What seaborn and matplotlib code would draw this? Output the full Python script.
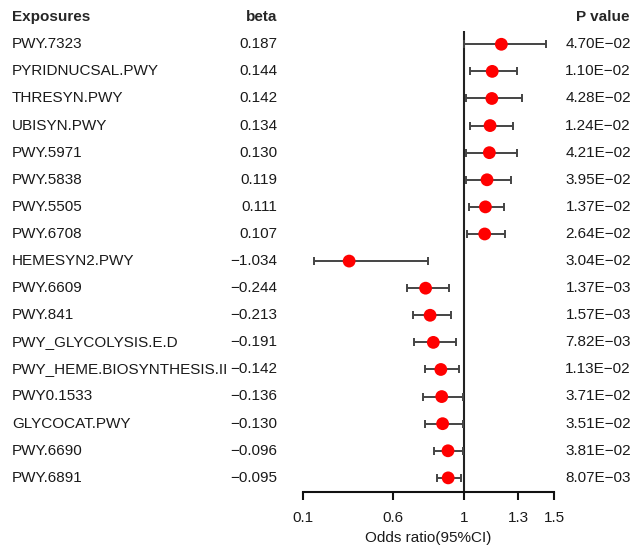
import matplotlib
matplotlib.use("Agg")
import matplotlib.pyplot as plt
import seaborn as sns
import pandas as pd

exposures = ["PWY.7323", "PYRIDNUCSAL.PWY", "THRESYN.PWY", "UBISYN.PWY", "PWY.5971",
             "PWY.5838", "PWY.5505", "PWY.6708", "HEMESYN2.PWY", "PWY.6609", "PWY.841",
             "PWY_GLYCOLYSIS.E.D", "PWY_HEME.BIOSYNTHESIS.II", "PWY0.1533", "GLYCOCAT.PWY",
             "PWY.6690", "PWY.6891"]
beta_labels = ["0.187", "0.144", "0.142", "0.134", "0.130", "0.119", "0.111", "0.107",
               "\u22121.034", "\u22120.244", "\u22120.213", "\u22120.191", "\u22120.142",
               "\u22120.136", "\u22120.130", "\u22120.096", "\u22120.095"]
odds_ratio = [1.206, 1.155, 1.153, 1.143, 1.139, 1.126, 1.117, 1.113, 0.356,
              0.783, 0.808, 0.826, 0.868, 0.873, 0.878, 0.908, 0.909]
ci_lower = [1.000, 1.033, 1.006, 1.030, 1.006, 1.006, 1.026, 1.013, 0.161,
            0.677, 0.710, 0.718, 0.777, 0.768, 0.777, 0.831, 0.846]
ci_upper = [1.453, 1.292, 1.323, 1.273, 1.295, 1.262, 1.221, 1.227, 0.796,
            0.911, 0.924, 0.952, 0.970, 0.994, 0.994, 0.994, 0.978]
p_values = ["4.70E\u221202", "1.10E\u221202", "4.28E\u221202", "1.24E\u221202", "4.21E\u221202",
            "3.95E\u221202", "1.37E\u221202", "2.64E\u221202", "3.04E\u221202", "1.37E\u221203",
            "1.57E\u221203", "7.82E\u221203", "1.13E\u221202", "3.71E\u221202", "3.51E\u221202",
            "3.81E\u221202", "8.07E\u221203"]
x_ticks = [0.1, 0.6, 1, 1.3, 1.5]
x_tick_labels = ["0.1", "0.6", "1", "1.3", "1.5"]

sns.set_style("white")
plt.rcParams["font.family"] = ["Liberation Sans", "DejaVu Sans"]

W, H = 640, 547
fig = plt.figure(figsize=(W / 100, H / 100), dpi=100)

def fx(px):
    return px / W

def fy(py):
    return 1 - py / H

ax_left, ax_right = 303.3, 554.0
ax_top, ax_bot = 31.0, 491.7
ax = fig.add_axes([fx(ax_left), fy(ax_bot), fx(ax_right - ax_left), (ax_bot - ax_top) / H])

df = pd.DataFrame({"exposure": exposures, "or": odds_ratio, "lo": ci_lower,
                   "hi": ci_upper, "row": range(len(exposures))})

ax.axvline(1, color="#222222", lw=1.5, zorder=1)
ax.errorbar(df["or"], df["row"], xerr=[df["or"] - df["lo"], df["hi"] - df["or"]],
            fmt="none", ecolor="#444444", elinewidth=1.4, capsize=3.2, capthick=1.4, zorder=2)
sns.scatterplot(data=df, x="or", y="row", color="#ff0000", s=85, edgecolor="none",
                zorder=3, ax=ax, legend=False)

n = len(exposures)
fs = 11
ax.set_xlim(0.1, 1.5)
ax.set_ylim(n - 1 + 0.51, -0.49)
ax.set_xticks(x_ticks)
ax.set_xticklabels(x_tick_labels, fontsize=fs, color="#1a1a1a")
ax.set_yticks([])
for s in ["top", "right", "left"]:
    ax.spines[s].set_visible(False)
ax.spines["bottom"].set_linewidth(1.5)
ax.spines["bottom"].set_color("#111111")
ax.tick_params(axis="x", direction="out", length=6, width=1.5, color="#111111", pad=8,
               bottom=True)
ax.set_xlabel("Odds ratio(95%CI)", fontsize=fs, labelpad=4, color="#1a1a1a")
ax.set_ylabel("")
ax.patch.set_alpha(0)

row0, step = 44.3, 27.09
fig.text(fx(12), fy(row0 - step), "Exposures", fontsize=fs, fontweight="bold",
         ha="left", va="center")
fig.text(fx(277.5), fy(row0 - step), "beta", fontsize=fs, fontweight="bold",
         ha="right", va="center")
fig.text(fx(630), fy(row0 - step), "P value", fontsize=fs, fontweight="bold",
         ha="right", va="center")
for i in range(n):
    y = fy(row0 + i * step)
    fig.text(fx(12), y, exposures[i], fontsize=fs, ha="left", va="center", color="#1a1a1a")
    fig.text(fx(277.5), y, beta_labels[i], fontsize=fs, ha="right", va="center", color="#1a1a1a")
    fig.text(fx(631), y, p_values[i], fontsize=fs, ha="right", va="center", color="#1a1a1a")

fig.savefig("out.png", dpi=100)
